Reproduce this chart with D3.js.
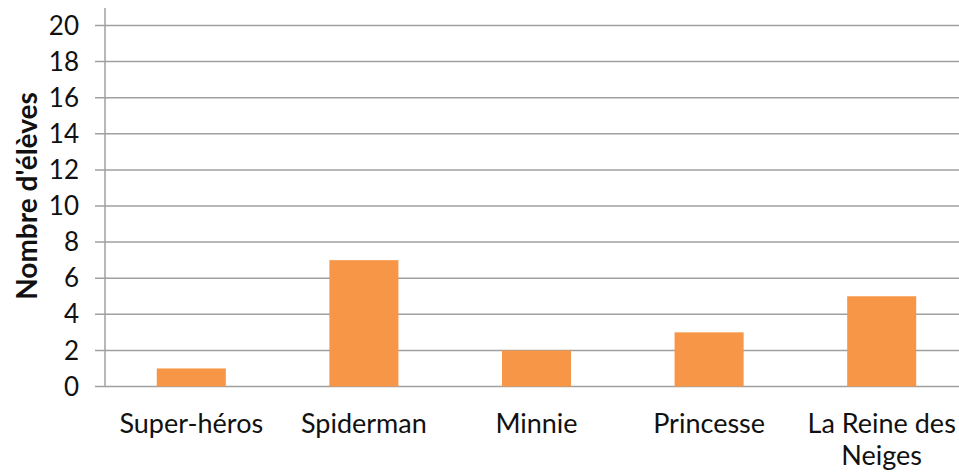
<!DOCTYPE html>
<html lang="fr">
<head>
<meta charset="UTF-8">
<title>Nombre d'élèves</title>
<script src="https://d3js.org/d3.v7.min.js"></script>
<style>
    body { margin: 0; background: #fff; font-family: Lato, "Open Sans", sans-serif; }
    .axis text { fill: #111; font-family: Lato, sans-serif; }
</style>
</head>
<body>
<svg width="959" height="473"></svg>
<script>
    const categories = ["Super-héros", "Spiderman", "Minnie", "Princesse", "La Reine des Neiges"];
    const values = [1, 7, 2, 3, 5];
    const yTicks = [0, 2, 4, 6, 8, 10, 12, 14, 16, 18, 20];

    const width = 959, height = 473;
    const margin = { top: 25.5, left: 105, bottom: 386.5 };

    const svg = d3.select("svg");

    const x = d3.scaleBand()
        .domain(categories)
        .range([margin.left, margin.left + 5 * 172.6])
        .paddingInner(0.6)
        .paddingOuter(0.3);

    const y = d3.scaleLinear()
        .domain([0, 20])
        .range([margin.bottom, margin.top]);

    // gridlines
    svg.append("g")
        .selectAll("line")
        .data(yTicks)
        .join("line")
        .attr("x1", 95)
        .attr("x2", width)
        .attr("y1", d => y(d))
        .attr("y2", d => y(d))
        .attr("stroke", "#a0a0a0")
        .attr("stroke-width", 1.5);

    // vertical axis line
    svg.append("line")
        .attr("x1", margin.left).attr("x2", margin.left)
        .attr("y1", 8).attr("y2", y(0))
        .attr("stroke", "#a0a0a0")
        .attr("stroke-width", 1.5);

    // y tick labels
    svg.append("g")
        .attr("class", "axis")
        .style("font-size", "26px")
        .selectAll("text")
        .data(yTicks)
        .join("text")
        .attr("x", 79)
        .attr("y", d => y(d))
        .attr("dy", "0.35em")
        .attr("text-anchor", "end")
        .text(d => d);

    // bars
    svg.append("g")
        .selectAll("rect")
        .data(values)
        .join("rect")
        .attr("x", (d, i) => x(categories[i]))
        .attr("width", x.bandwidth())
        .attr("y", d => y(d))
        .attr("height", d => y(0) - y(d))
        .attr("fill", "#f79646");

    // x labels
    const labels = svg.append("g")
        .attr("class", "axis")
        .style("font-size", "27px")
        .selectAll("text")
        .data(categories)
        .join("text")
        .attr("text-anchor", "middle")
        .attr("x", d => x(d) + x.bandwidth() / 2)
        .attr("y", 433);

    labels.each(function (d) {
        const t = d3.select(this);
        const parts = d === "La Reine des Neiges" ? ["La Reine des", "Neiges"] : [d];
        parts.forEach((p, i) => {
            t.append("tspan")
                .attr("x", x(d) + x.bandwidth() / 2)
                .attr("dy", i === 0 ? 0 : 32)
                .text(p);
        });
    });

    // y axis title
    svg.append("text")
        .attr("transform", `translate(37,196) rotate(-90)`)
        .attr("text-anchor", "middle")
        .style("font-size", "28px")
        .style("font-weight", "bold")
        .style("fill", "#111")
        .text("Nombre d'élèves");
</script>
</body>
</html>
